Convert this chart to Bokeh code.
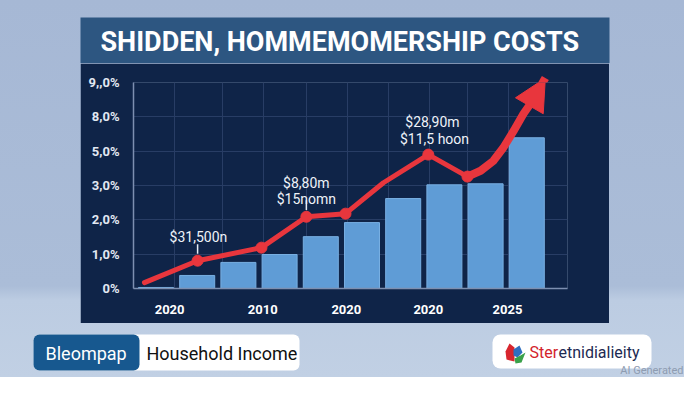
from bokeh.plotting import figure
from bokeh.models import (BoxAnnotation, Arrow, NormalHead, FixedTicker,
                          ColumnDataSource, Range1d, Spacer)
from bokeh.layouts import column, row
from bokeh.core.properties import value
from bokeh.embed import file_html
from bokeh.resources import INLINE

# ---------------- data ----------------
title_text = "SHIDDEN, HOMMEMOMERSHIP COSTS"
bar_x = [0, 1, 2, 3, 4, 5, 6, 7, 8, 9]
bar_values = [0.03, 0.38, 0.76, 0.99, 1.51, 1.92, 2.62, 3.02, 3.05, 4.39]
line_x = [-0.28, 1.01, 2.56, 3.65, 4.60, 5.52, 6.61, 7.56, 7.88, 8.19, 8.43, 8.68, 8.92, 9.09, 9.45]
line_y = [0.17, 0.81, 1.19, 2.09, 2.18, 3.08, 3.90, 3.26, 3.43, 3.72, 4.10, 4.59, 5.09, 5.38, 6.13]
marker_idx = [1, 2, 3, 4, 6, 7]
tail_start = 7
y_ticks = [0, 1, 2, 3, 4, 5, 6]
y_tick_labels = ["0%", "1,0%", "2,0%", "3,0%", "5,0%", "8,0%", "9,,0%"]
x_tick_pos = [0.33, 2.59, 4.62, 6.61, 8.53]
x_tick_labels = ["2020", "2010", "2020", "2020", "2025"]
x_grid_pos = [0.45, 1.61, 2.61, 3.65, 4.65, 5.64, 6.63, 7.56, 8.56]
ann_text = ["$31,500n", "$8,80m", "$15nomn", "$28,90m", "$11,5 hoon"]
ann_x = [1.03, 3.65, 3.65, 6.71, 6.76]
ann_y = [1.51, 3.08, 2.62, 4.85, 4.36]
leader_idx = [1, 3]
left_badge = "Bleompap"
left_caption = "Household Income"
right_logo_a = "Ster"
right_logo_b = "etnidialieity"
watermark = "AI Generated"

# ---------------- styles ----------------
RED = "#e8363d"
NAVY = "#0f2448"
BAND = "#2d5681"
FONT = "Roboto"
BG_CSS = ("linear-gradient(to bottom, #a6b8d5 0px, #abbdd8 286px, "
          "#bccce2 300px, #c1d0e4 377px)")
W = 684


def plain_fig(height, y_top, y_bottom):
    f = figure(width=W, height=height, x_range=Range1d(0, W), y_range=Range1d(y_bottom, y_top),
               min_border_left=0, min_border_right=0, min_border_top=0, min_border_bottom=0,
               x_axis_location=None, y_axis_location=None,
               output_backend="svg", toolbar_location=None)
    f.grid.visible = False
    f.background_fill_alpha = 0
    f.border_fill_alpha = 0
    f.outline_line_color = None
    return f


def box(f, l, r, t, b, color, radius=0):
    f.add_layout(BoxAnnotation(left=l, right=r, top=t, bottom=b, fill_color=color,
                               fill_alpha=1.0, line_color=None, level="underlay",
                               border_radius=radius))


def txt(f, x, y, s, size, color, align="left", baseline="middle", style="normal"):
    f.text([x], [y], text=[s], text_font=value(FONT), text_font_size=size,
           text_font_style=style, text_color=color, text_align=align, text_baseline=baseline)


# ---------------- title band ----------------
ft = plain_fig(63, 0, 63)
box(ft, 80, 609, 17, 63, BAND)
txt(ft, 100, 41.5, title_text, "27px", "#ffffff", style="bold")

# ---------------- chart ----------------
fc = figure(width=529, height=260, x_range=Range1d(-0.546, 9.988), y_range=Range1d(0, 6),
            min_border_left=53, min_border_right=42, min_border_top=19, min_border_bottom=35,
            output_backend="svg", toolbar_location=None)
fc.background_fill_color = NAVY
fc.border_fill_color = NAVY
fc.outline_line_color = None

fc.xgrid.ticker = FixedTicker(ticks=x_grid_pos)
fc.ygrid.ticker = FixedTicker(ticks=y_ticks)
for g in (fc.xgrid, fc.ygrid):
    g.grid_line_color = "#283d65"
    g.grid_line_width = 1

fc.yaxis.ticker = FixedTicker(ticks=y_ticks)
fc.yaxis.major_label_overrides = {t: l for t, l in zip(y_ticks, y_tick_labels)}
fc.xaxis.ticker = FixedTicker(ticks=x_tick_pos)
fc.xaxis.major_label_overrides = {t: l for t, l in zip(x_tick_pos, x_tick_labels)}
for ax in (fc.xaxis, fc.yaxis):
    ax.major_tick_line_color = None
    ax.minor_tick_line_color = None
    ax.axis_line_color = "#7d8fb0"
    ax.axis_line_width = 1.5
    ax.major_label_text_font = FONT
    ax.major_label_text_font_style = "bold"
    ax.major_label_text_font_size = "13px"
    ax.major_label_text_color = "#e2e8f2"
fc.yaxis.major_label_standoff = 8
fc.xaxis.major_label_standoff = 10
fc.xaxis.major_label_text_color = "#ffffff"

fc.vbar(x=bar_x, top=bar_values, width=0.85, bottom=0,
        fill_color="#5f9cd6", line_color="#78afe2", line_width=1)

main_src = ColumnDataSource(dict(x=line_x[:tail_start + 1], y=line_y[:tail_start + 1]))
tail_src = ColumnDataSource(dict(x=line_x[tail_start:-1], y=line_y[tail_start:-1]))
fc.line("x", "y", source=main_src, line_color=RED, line_width=5, line_join="round", line_cap="round")
fc.line("x", "y", source=tail_src, line_color=RED, line_width=8, line_join="round", line_cap="round")
fc.scatter([line_x[i] for i in marker_idx], [line_y[i] for i in marker_idx],
           size=11, fill_color=RED, line_color=RED)
fc.add_layout(Arrow(end=NormalHead(size=32, fill_color=RED, line_color=RED),
                    x_start=line_x[-2], y_start=line_y[-2], x_end=line_x[-1], y_end=line_y[-1],
                    line_color=RED, line_width=8))

fc.segment([line_x[i] for i in leader_idx], [line_y[i] + 0.2 for i in leader_idx],
           [line_x[i] for i in leader_idx], [line_y[i] + 0.48 for i in leader_idx],
           line_color="#e6ecf5", line_width=1.5)
fc.text(ann_x, ann_y, text=ann_text, text_font=value(FONT), text_font_size="14px",
        text_color="#eef2f8", text_align="center", text_baseline="middle")

chart_row = row(Spacer(width=80, height=260), fc, Spacer(width=W - 609, height=260))

# ---------------- bottom logos ----------------
fb = plain_fig(54, 323, 377)
box(fb, 33, 299, 334, 370, "#ffffff", 6)
box(fb, 33, 139, 334, 370, "#17588f", 6)
box(fb, 492, 651, 334, 368, "#ffffff", 8)

fb.patches(xs=[[505, 509, 514, 514, 506], [513, 519, 522, 517, 513], [514, 520, 525, 521, 515]],
           ys=[[351, 343, 347, 361, 359], [349, 345, 352, 357, 355], [358, 355, 352, 362, 363]],
           fill_color=["#d8262e", "#2f6fc0", "#3aa14a"], line_color=None)

txt(fb, 45, 352.5, left_badge, "18px", "#ffffff")
txt(fb, 146, 352.5, left_caption, "18px", "#111111")
txt(fb, 529, 352, right_logo_a, "16px", "#d3232b")
txt(fb, 558, 352, right_logo_b, "16px", "#1d2a52")
txt(fb, 683, 376, watermark, "11px", "#8e9cb1", align="right", baseline="bottom")

layout = column(ft, chart_row, fb, styles={"background": BG_CSS})

open("out.html", "w").write(file_html(layout, INLINE))
